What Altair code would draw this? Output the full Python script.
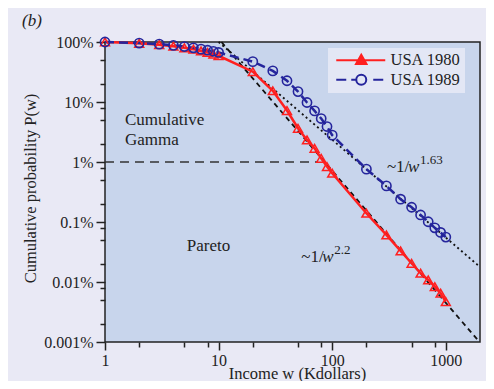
import altair as alt
import pandas as pd

# ---------------- data ----------------
income = [1, 2, 3, 4, 5, 6, 7, 8, 9, 10, 20, 30, 40, 50, 60, 70, 80, 90, 100,
          200, 300, 400, 500, 600, 700, 800, 900, 1000]
usa1980 = [100, 95, 90, 85, 80, 76, 71, 67, 63, 59, 32, 15.4, 7.2, 3.65, 2.33,
           1.69, 1.15, 0.84, 0.65, 0.14, 0.061, 0.033, 0.0205, 0.014, 0.0108,
           0.00835, 0.0065, 0.0047]
usa1989 = [100, 96, 92, 88, 84, 80, 76, 73, 70, 67, 47, 33, 22.6, 14.9, 9.8,
           7.1, 5.3, 3.9, 2.8, 0.76, 0.40, 0.24, 0.176, 0.131, 0.101, 0.080,
           0.067, 0.056]
series_names = ["USA 1980", "USA 1989"]

x_major = [1, 10, 100, 1000]
x_minor = [2, 5, 8, 20, 50, 80, 200, 500, 800]
y_major = [100, 10, 1, 0.1, 0.01, 0.001]
y_minor = [50, 20, 8, 5, 2, 0.8, 0.5, 0.2, 0.08, 0.05, 0.02, 0.008, 0.005,
           0.002]

# power-law guide lines (end points)
fit163_w = [10, 2000]
fit163_p = [100, 0.0178]
fit22_w = [10.6, 1980]
fit22_p = [100, 0.001]
# 1% boundary
split_w = [1, 75]
split_p = [1, 1]

region_text = ["Cumulative", "Gamma", "Pareto"]
region_w = [1.5, 1.5, 5.24]
region_p = [4.13, 1.92, 0.0333]

law_base = ["~1/", "~1/"]
law_var = ["w", "w"]
law_exp = ["1.63", "2.2"]
law_w = [303, 53.5]
law_p = [0.68, 0.0215]

# ---------------- frames ----------------
df = pd.DataFrame({
    "w": income * 2,
    "p": usa1980 + usa1989,
    "series": [series_names[0]] * len(income) + [series_names[1]] * len(income),
})
fit163 = pd.DataFrame({"w": fit163_w, "p": fit163_p})
fit22 = pd.DataFrame({"w": fit22_w, "p": fit22_p})
split = pd.DataFrame({"w": split_w, "p": split_p})
regions = pd.DataFrame({"w": region_w, "p": region_p, "t": region_text})
laws = pd.DataFrame({"w": law_w, "p": law_p, "b": law_base, "v": law_var,
                     "e": law_exp})

FONT = "Liberation Serif"
RED = "#FF2020"
BLUE = "#25259C"
INK = "#222222"

xs = alt.Scale(type="log", domain=[1, 2000], nice=False)
ys = alt.Scale(type="log", domain=[0.001, 100], nice=False)

xmaj = "[" + ",".join(str(v) for v in x_major) + "]"
ymaj = "[" + ",".join(str(v) for v in y_major) + "]"

x_axis = alt.Axis(
    values=x_major + x_minor, title="Income w (Kdollars)", format="~g",
    labelExpr=f"indexof({xmaj}, datum.value) >= 0 ? datum.label : ''",
    tickSize={"condition": {"test": f"indexof({xmaj}, datum.value) >= 0",
                            "value": 8}, "value": 5},
    grid=False, domain=False, tickColor=INK, tickWidth=1.5,
    labelFont=FONT, labelFontSize=16, labelColor=INK, labelPadding=2,
    labelOverlap=False, labelFlush=False,
    titleFont=FONT, titleFontSize=16.5, titleFontWeight="normal",
    titleColor=INK, titleX=192, titleY=36, titleBaseline="alphabetic",
    titleAlign="center",
)
y_axis = alt.Axis(
    values=y_major + y_minor, title="Cumulative probability P(w)",
    labelExpr=f"indexof({ymaj}, datum.value) >= 0 ? format(datum.value, '~g') + '%' : ''",
    tickSize={"condition": {"test": f"indexof({ymaj}, datum.value) >= 0",
                            "value": 9}, "value": 5},
    grid=False, domain=False, tickColor=INK, tickWidth=1.5,
    labelFont=FONT, labelFontSize=16, labelColor=INK, labelPadding=3,
    labelOverlap=False, labelFlush=False,
    titleFont=FONT, titleFontSize=16.5, titleFontWeight="normal",
    titleColor=INK, titleX=-70, titleY=146, titleAngle=270,
    titleBaseline="alphabetic", titleAlign="center",
)


def enc():
    return dict(
        x=alt.X("w:Q", scale=xs, axis=x_axis),
        y=alt.Y("p:Q", scale=ys, axis=y_axis),
    )


split_layer = alt.Chart(split).mark_line(
    color="#333333", strokeWidth=1.5, strokeDash=[9, 6]).encode(**enc())
fit163_layer = alt.Chart(fit163).mark_line(
    color="#111111", strokeWidth=1.8, strokeDash=[2, 3]).encode(**enc())
fit22_layer = alt.Chart(fit22).mark_line(
    color="#111111", strokeWidth=1.8, strokeDash=[5, 4]).encode(**enc())

red_line = alt.Chart(df).transform_filter(
    alt.datum.series == series_names[0]).mark_line(
    color=RED, strokeWidth=2.5).encode(**enc())
blue_line = alt.Chart(df).transform_filter(
    alt.datum.series == series_names[1]).mark_line(
    color=BLUE, strokeWidth=2.5, strokeDash=[9, 5]).encode(**enc())
red_pts = alt.Chart(df).transform_filter(
    alt.datum.series == series_names[0]).mark_point(
    shape="triangle-up", color=RED, filled=False, size=80,
    strokeWidth=1.5, opacity=1).encode(**enc())
blue_pts = alt.Chart(df).transform_filter(
    alt.datum.series == series_names[1]).mark_point(
    shape="circle", color=BLUE, filled=False, size=85,
    strokeWidth=1.6, opacity=1).encode(**enc())

region_layer = alt.Chart(regions).mark_text(
    align="left", baseline="alphabetic", font=FONT, fontSize=17,
    color=INK).encode(text="t:N", **enc())
law_base_layer = alt.Chart(laws).mark_text(
    align="left", baseline="alphabetic", font=FONT, fontSize=17,
    color=INK).encode(text="b:N", **enc())
law_var_layer = alt.Chart(laws).mark_text(
    align="left", baseline="alphabetic", font=FONT, fontSize=17,
    fontStyle="italic", color=INK, dx=21).encode(text="v:N", **enc())
law_exp_layer = alt.Chart(laws).mark_text(
    align="left", baseline="alphabetic", font=FONT, fontSize=13,
    color=INK, dx=33, dy=-8).encode(text="e:N", **enc())

red_sym = "M-5,0H4.8M0,-1.1L1.05,0.75L-1.05,0.75Z"
blue_sym = ("M-5,0H-3M-2,0H-1M1,0A1,1 0 1,1 -1,0A1,1 0 1,1 1,0Z"
            "M2.4,0H4.4")
leg = alt.Legend(
    title=None, orient="none", legendX=223, legendY=6,
    fillColor="#E3E7F5", padding=4, symbolSize=100, symbolStrokeWidth=2,
    symbolOffset=21, labelOffset=21, labelFont=FONT, labelFontSize=16.5,
    labelColor=INK, rowPadding=1.5, symbolOpacity=1,
)
legend_layer = alt.Chart(df).mark_point(opacity=0, filled=False).encode(
    color=alt.Color("series:N", scale=alt.Scale(domain=series_names,
                                                range=[RED, BLUE]), legend=leg),
    fill=alt.Fill("series:N", scale=alt.Scale(domain=series_names,
                                              range=[RED, "transparent"]),
                  legend=leg),
    shape=alt.Shape("series:N", scale=alt.Scale(domain=series_names,
                                                range=[red_sym, blue_sym]),
                    legend=leg),
    **enc(),
)

chart = alt.layer(
    split_layer, fit163_layer, fit22_layer, red_line, blue_line, red_pts,
    blue_pts, region_layer, law_base_layer, law_var_layer, law_exp_layer,
    legend_layer,
).properties(
    width=375, height=300,
    autosize=alt.AutoSizeParams(type="none"),
    padding={"left": 97, "top": 34, "right": 6, "bottom": 39},
    background="#E9E9F5",
    title=alt.TitleParams("(b)", anchor="start", frame="group", dx=-83,
                          dy=15, offset=19, font=FONT, fontSize=17,
                          fontStyle="italic", fontWeight="normal", color=INK),
).configure(
    font=FONT,
).configure_axis(
    labelFont=FONT, titleFont=FONT,
).configure_view(
    fill="#C8D5EC", stroke="#222222", strokeWidth=1.5,
)

chart.save("out.html", embed_options={"renderer": "svg", "actions": False})
